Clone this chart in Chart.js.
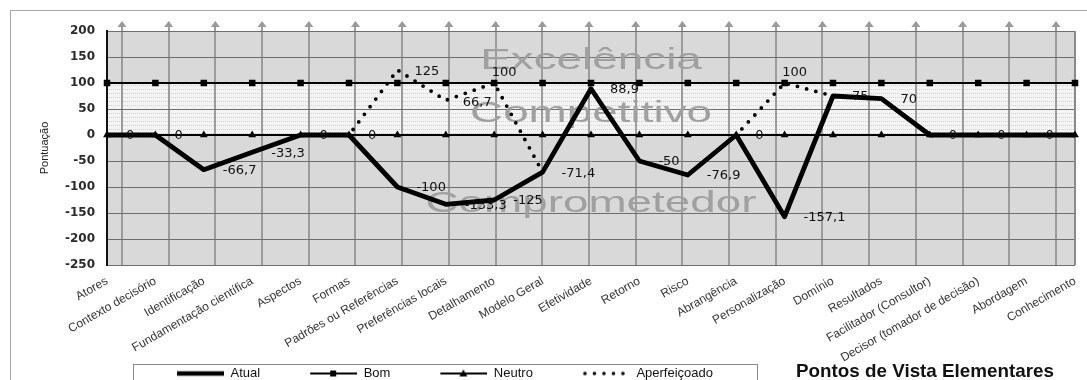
<!DOCTYPE html>
<html><head><meta charset="utf-8">
<script src="https://cdn.jsdelivr.net/npm/chart.js@4.4.1/dist/chart.umd.min.js"></script>
<style>html,body{margin:0;padding:0;background:#fff;}#wrap{width:1087px;height:380px;position:relative;overflow:hidden;}</style>
</head><body><div id="wrap"><canvas id="c" width="1087" height="380"></canvas></div>
<script>
const categories = ['Atores','Contexto decisório','Identificação','Fundamentação científica','Aspectos','Formas','Padrões ou Referências','Preferências locais','Detalhamento','Modelo Geral','Efetividade','Retorno','Risco','Abrangência','Personalização','Domínio','Resultados','Facilitador (Consultor)','Decisor (tomador de decisão)','Abordagem','Conhecimento'];
const atual = [0,0,-66.7,-33.3,0,0,-100,-133.3,-125,-71.4,88.9,-50,-76.9,0,-157.1,75,70,0,0,0,0];
const bom = [100,100,100,100,100,100,100,100,100,100,100,100,100,100,100,100,100,100,100,100,100];
const neutro = [0,0,0,0,0,0,0,0,0,0,0,0,0,0,0,0,0,0,0,0,0];
const aperfeicoado = [0,0,-66.7,-33.3,0,0,125,66.7,100,-71.4,88.9,-50,-76.9,0,100,75,70,0,0,0,0];
const seriesNames = ['Atual','Bom','Neutro','Aperfeiçoado'];
const yMin = -250, yMax = 200, yStep = 25;
const zoneNames = ['Excelência','Competitivo','Comprometedor'];
const axisTitleY = 'Pontuação';
const chartTitle = 'Pontos de Vista Elementares';

const fmt = v => String(v).replace('.', ',');

function sample(kind){
  const c = document.createElement('canvas'); c.width = 92; c.height = 12;
  const g = c.getContext('2d'); g.fillStyle = '#000'; g.strokeStyle = '#000';
  const x0 = 45, x1 = 92, y = 6;
  if (kind === 0){ g.lineWidth = 4.5; g.beginPath(); g.moveTo(x0,y); g.lineTo(x1,y); g.stroke(); }
  if (kind === 1){ g.lineWidth = 2; g.beginPath(); g.moveTo(x0,y); g.lineTo(x1,y); g.stroke(); g.fillRect(65,3,6,6); }
  if (kind === 2){ g.lineWidth = 2; g.beginPath(); g.moveTo(x0,y); g.lineTo(x1,y); g.stroke(); g.beginPath(); g.moveTo(68,2); g.lineTo(72,9); g.lineTo(64,9); g.closePath(); g.fill(); }
  if (kind === 3){ for (let k=0;k<5;k++){ g.beginPath(); g.arc(47+k*9.5,y,1.8,0,Math.PI*2); g.fill(); } }
  return c;
}
const legendImgs = [0,1,2,3].map(sample);

function bandPattern(){
  const c = document.createElement('canvas'); c.width = 4; c.height = 4;
  const g = c.getContext('2d'); g.fillStyle = '#f4f4f4'; g.fillRect(0,0,4,4);
  g.fillStyle = '#cfcfcf'; g.fillRect(1,1,1,1); g.fillRect(3,1,1,1);
  return c;
}

const deco = {
  id: 'deco',
  afterInit(chart){
    const lg = chart.legend;
    if (lg && !lg.__p){
      const f = lg.fit.bind(lg);
      lg.fit = function(){ f(); this.__h = this.height; this.height = 0; };
      lg.__p = true;
    }
    const tb = chart.titleBlock;
    if (tb && !tb.__p){
      const u = tb.update.bind(tb);
      tb.update = function(w, h){ u(w, h); this.__h = this.height; this.height = 0; this.bottom = this.top; };
      tb.__p = true;
    }
  },
  afterLayout(chart){
    const lg = chart.legend, h = lg.__h || 24;
    lg.left = 127; lg.right = 1087; lg.width = 960; lg.top = 362; lg.bottom = 362 + h;
    const t = chart.titleBlock, th = t.__h || 23;
    t.left = 796; t.right = 1054; t.width = 258; t.top = 360; t.bottom = 360 + th;
  },
  beforeDraw(chart){
    const ctx = chart.ctx, a = chart.chartArea, y = chart.scales.y;
    ctx.save();
    ctx.strokeStyle = '#a8a8a8'; ctx.lineWidth = 1;
    ctx.strokeRect(10.5, 10.5, 1100, 400);
    ctx.fillStyle = '#d9d9d9';
    ctx.fillRect(a.left, a.top, a.right - a.left, a.bottom - a.top);
    ctx.fillStyle = ctx.createPattern(bandPattern(), 'repeat');
    const t = y.getPixelForValue(100), b = y.getPixelForValue(0);
    ctx.fillRect(a.left, t, a.right - a.left, b - t);
    ctx.restore();
  },
  beforeDatasetsDraw(chart){
    const ctx = chart.ctx, a = chart.chartArea, y = chart.scales.y, x2 = chart.scales.x2;
    ctx.save();
    const baseVals = [127, 25, -148];
    const cx = (a.left + a.right) / 2;
    ctx.fillStyle = '#a0a0a0';
    ctx.font = '29px "Liberation Sans"';
    ctx.textAlign = 'center'; ctx.textBaseline = 'alphabetic';
    zoneNames.forEach((w, i) => {
      ctx.save();
      ctx.translate(cx, y.getPixelForValue(baseVals[i]));
      ctx.scale(1.58, 1);
      ctx.fillText(w, 0, 0);
      ctx.restore();
    });
    ctx.strokeStyle = '#8a8a8a'; ctx.lineWidth = 2;
    ctx.beginPath(); ctx.moveTo(a.right, a.top); ctx.lineTo(a.right, a.bottom); ctx.stroke();
    ctx.fillStyle = '#9a9a9a';
    x2.ticks.forEach(tk => {
      const px = x2.getPixelForValue(tk.value);
      ctx.beginPath(); ctx.moveTo(px, x2.top - 10); ctx.lineTo(px + 4.5, x2.top - 4); ctx.lineTo(px - 4.5, x2.top - 4); ctx.closePath(); ctx.fill();
    });
    ctx.restore();
  },
  afterDatasetsDraw(chart){
    const ctx = chart.ctx;
    ctx.save();
    ctx.fillStyle = '#111';
    ctx.font = '13px "DejaVu Sans"';
    ctx.textBaseline = 'middle';
    const m0 = chart.getDatasetMeta(0);
    m0.data.forEach((pt, i) => {
      ctx.textAlign = 'left';
      ctx.fillText(fmt(atual[i]), pt.x + 19, pt.y + 1);
    });
    const m3 = chart.getDatasetMeta(3);
    m3.data.forEach((pt, i) => {
      if (aperfeicoado[i] === atual[i]) return;
      const v = aperfeicoado[i];
      if (v >= 100 && v < 125) { ctx.textAlign = 'center'; ctx.fillText(fmt(v), pt.x + 10, pt.y - 10); }
      else { ctx.textAlign = 'left'; ctx.fillText(fmt(v), pt.x + 17, pt.y + 2); }
    });
    ctx.restore();
  },
  afterDraw(chart){
    const ctx = chart.ctx;
    ctx.save();
    ctx.strokeStyle = '#888'; ctx.lineWidth = 1;
    ctx.strokeRect(133.5, 364.5, 624, 40);
    ctx.restore();
  }
};

const chart = new Chart(document.getElementById('c'), {
  type: 'line',
  data: {
    labels: categories,
    datasets: [
      { label: seriesNames[0], data: atual, borderColor: '#000', borderWidth: 4.8, pointRadius: 0, tension: 0, borderJoinStyle: 'round' },
      { label: seriesNames[1], data: bom, borderColor: '#000', borderWidth: 2, pointStyle: 'rect', pointRadius: 4.6, pointBackgroundColor: '#000', pointBorderColor: '#000', pointBorderWidth: 0, tension: 0 },
      { label: seriesNames[2], data: neutro, borderColor: '#000', borderWidth: 2, pointStyle: 'triangle', pointRadius: 4.5, pointBackgroundColor: '#000', pointBorderColor: '#000', pointBorderWidth: 0, tension: 0 },
      { label: seriesNames[3], data: aperfeicoado, borderColor: '#000', borderWidth: 3.8, borderDash: [0, 9.5], borderCapStyle: 'round', pointRadius: 0, tension: 0 }
    ]
  },
  options: {
    responsive: false, animation: false, devicePixelRatio: 1,
    layout: { padding: { left: 10, top: 31, right: 12, bottom: 0 } },
    scales: {
      x: {
        type: 'category', position: 'bottom',
        grid: { display: false }, border: { display: false },
        ticks: { autoSkip: false, maxRotation: 30, minRotation: 30, font: { family: 'Liberation Sans', size: 12 }, color: '#333', padding: 1 },
        afterFit(s){ s.height = 115; }
      },
      x2: {
        type: 'linear', position: 'top', min: -0.321, max: 20.407,
        ticks: { display: false, stepSize: 1, includeBounds: false },
        grid: { color: '#9c9c9c', lineWidth: 2, tickLength: 9, drawTicks: true },
        border: { display: false },
        afterFit(s){ s.height = 0; }
      },
      y: {
        min: yMin, max: yMax,
        ticks: { stepSize: yStep, font: { family: 'DejaVu Sans', size: 12, weight: 'bold' }, color: '#2a2a2a', padding: 12 },
        grid: { color: '#6e6e6e', lineWidth: 1, drawTicks: false },
        border: { color: '#111', width: 2 },
        title: { display: true, text: axisTitleY, font: { family: 'Liberation Sans', size: 11 }, color: '#222', padding: { top: 28, bottom: 0 } },
        afterFit(s){ s.width = 97; }
      }
    },
    plugins: {
      legend: {
        position: 'bottom', align: 'start',
        labels: {
          usePointStyle: true, pointStyleWidth: 92, boxHeight: 12, padding: 5,
          font: { family: 'Liberation Sans', size: 13 }, color: '#111',
          generateLabels(ch){
            const items = Chart.defaults.plugins.legend.labels.generateLabels(ch);
            items.forEach((it, i) => { it.pointStyle = legendImgs[i]; });
            return items;
          }
        }
      },
      title: { display: true, text: chartTitle, position: 'bottom', align: 'center', font: { family: 'Liberation Sans', size: 19, weight: 'bold' }, color: '#111', padding: 0 },
      tooltip: { enabled: false }
    }
  },
  plugins: [deco]
});
</script>
</body></html>
